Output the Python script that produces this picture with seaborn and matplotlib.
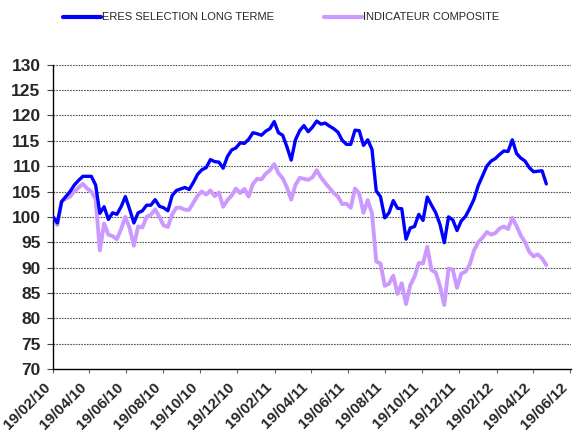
import pandas as pd
import numpy as np
import matplotlib
matplotlib.use('Agg')
import matplotlib.pyplot as plt
import seaborn as sns

# --------- DATA (weekly closes) -------------------------------
start_date = "2010-02-19"
n_weeks = 117

eres_values = [
    100.0, 98.8, 103.0, 104.0, 105.0, 106.3, 107.2, 108.0, 108.0, 108.0,
    106.3, 100.7, 102.0, 99.5, 100.8, 100.5, 102.0, 104.0, 101.5, 98.8,
    100.8, 101.2, 102.3, 102.3, 103.4, 102.1, 101.8, 101.2, 104.2, 105.2,
    105.5, 105.8, 105.4, 106.8, 108.4, 109.3, 109.7, 111.3, 110.9, 110.8,
    109.6, 111.9, 113.2, 113.6, 114.6, 114.5, 115.3, 116.6, 116.4, 116.1,
    116.9, 117.4, 118.8, 116.6, 116.1, 113.8, 111.2, 115.2, 117.0, 118.0,
    116.8, 117.7, 118.9, 118.3, 118.5, 117.9, 117.4, 116.7, 115.1, 114.3,
    114.3, 117.1, 117.0, 114.1, 115.2, 113.3, 105.1, 104.0, 99.8, 100.8,
    103.2, 101.7, 101.6, 95.6, 97.8, 98.1, 100.5, 99.3, 103.9, 102.3,
    100.8, 98.5, 94.9, 100.0, 99.4, 97.3, 99.2, 100.1, 101.7, 103.5,
    106.2, 108.1, 110.0, 111.0, 111.5, 112.3, 113.0, 112.9, 115.2, 112.5,
    111.6, 111.0, 109.7, 108.9, 109.0, 109.1, 106.5,
]

composite_values = [
    100.0, 98.4, 103.0, 103.6, 104.0, 105.0, 105.8, 106.5, 105.6, 105.0,
    103.5, 93.4, 98.7, 96.5, 96.2, 95.6, 97.6, 100.0, 97.8, 94.3,
    98.1, 97.9, 100.0, 100.4, 101.5, 100.0, 98.3, 98.0, 100.5, 101.8,
    101.8, 101.4, 101.4, 102.8, 104.2, 105.0, 104.4, 105.2, 104.1, 104.8,
    102.0, 103.3, 104.2, 105.6, 104.7, 105.5, 104.0, 106.5, 107.5, 107.4,
    108.5, 109.2, 110.4, 108.6, 107.6, 105.8, 103.4, 106.3, 107.7, 107.5,
    107.3, 107.8, 109.2, 107.8, 106.7, 105.7, 104.7, 104.0, 102.5, 102.6,
    101.8, 105.6, 104.6, 100.8, 103.3, 100.7, 91.2, 90.8, 86.4, 86.8,
    88.4, 84.8, 86.9, 82.8, 86.5, 88.2, 90.9, 90.8, 94.1, 89.5,
    89.0, 86.3, 82.6, 89.8, 89.6, 86.0, 88.8, 89.2, 90.6, 93.4,
    95.0, 95.9, 97.0, 96.5, 96.8, 97.7, 98.1, 97.6, 99.8, 98.2,
    96.3, 95.0, 93.1, 92.2, 92.6, 91.8, 90.5,
]

series_names = ["ERES SELECTION LONG TERME", "INDICATEUR COMPOSITE"]
series_colors = ["#0000FF", "#CC99FF"]

tick_labels = ["19/02/10", "19/04/10", "19/06/10", "19/08/10", "19/10/10",
               "19/12/10", "19/02/11", "19/04/11", "19/06/11", "19/08/11",
               "19/10/11", "19/12/11", "19/02/12", "19/04/12", "19/06/12"]
y_ticks = list(range(70, 131, 5))

# --------- BUILD TABLE ----------
dates = pd.date_range(start_date, periods=n_weeks, freq="7D")
df = pd.DataFrame({
    "date": np.concatenate([dates, dates]),
    "value": eres_values + composite_values,
    "serie": [series_names[0]] * n_weeks + [series_names[1]] * n_weeks,
})
tick_dates = pd.to_datetime(tick_labels, format="%d/%m/%y")

# --------- PLOT ----------
sns.set_style("white")
plt.rcParams['font.family'] = ['Liberation Sans', 'DejaVu Sans']

fig = plt.figure(figsize=(5.77, 4.32), dpi=100)
ax = fig.add_axes([0.092, 0.146, 0.898, 0.704])

sns.lineplot(data=df[df["serie"] == series_names[0]], x="date", y="value",
             color=series_colors[0], linewidth=2.4, ax=ax,
             label=series_names[0], zorder=3)
sns.lineplot(data=df[df["serie"] == series_names[1]], x="date", y="value",
             color=series_colors[1], linewidth=2.8, ax=ax,
             label=series_names[1], zorder=2)

ax.set_ylim(70, 130)
ax.set_yticks(y_ticks)
ax.set_xlim(pd.Timestamp("2010-02-19"), pd.Timestamp("2012-06-21"))
ax.set_xticks(tick_dates)
ax.set_xticklabels(tick_labels)

for t in y_ticks[1:]:
    ax.axhline(t, color="#555555", linestyle=(0, (1.5, 1)), linewidth=0.8, zorder=1)

ax.set_xlabel("")
ax.set_ylabel("")
for side in ["top", "right"]:
    ax.spines[side].set_visible(False)
for side in ["left", "bottom"]:
    ax.spines[side].set_color("black")
    ax.spines[side].set_linewidth(1.0)

ax.tick_params(axis="y", which="major", direction="out", length=4, width=0.8,
               color="#444444", labelsize=12.5, pad=5, left=True)
ax.tick_params(axis="x", which="major", direction="out", length=3, width=0.8,
               color="#666666", labelsize=11, pad=5, bottom=True)
for lab in ax.get_yticklabels():
    lab.set_fontweight("bold")
for lab in ax.get_xticklabels():
    lab.set_fontweight("bold")
    lab.set_rotation(45)
    lab.set_ha("right")
    lab.set_va("top")

leg = ax.legend(loc="upper center", bbox_to_anchor=(0.44, 1.205), ncol=2,
                frameon=False, fontsize=8, handlelength=3.4, handletextpad=0.1,
                columnspacing=4.5)
for line in leg.get_lines():
    line.set_linewidth(3)

plt.savefig("out.png", dpi=100)
plt.close()
